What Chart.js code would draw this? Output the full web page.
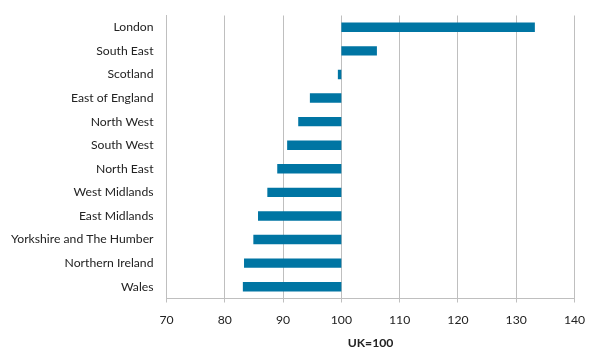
<!DOCTYPE html>
<html>
<head>
<meta charset="utf-8">
<script src="https://cdn.jsdelivr.net/npm/chart.js@4"></script>
<style>
  html, body { margin: 0; padding: 0; background: #fff; }
  #wrap { width: 600px; height: 361px; position: relative; }
</style>
</head>
<body>
<div id="wrap"><canvas id="c"></canvas></div>
<script>
const regions = ["London", "South East", "Scotland", "East of England", "North West", "South West", "North East", "West Midlands", "East Midlands", "Yorkshire and The Humber", "Northern Ireland", "Wales"];
const indexValues = [133.2, 106.1, 99.4, 94.6, 92.6, 90.7, 89.0, 87.3, 85.7, 84.9, 83.3, 83.1];
const baseline = 100;
const xTicks = [70, 80, 90, 100, 110, 120, 130, 140];
const axisTitle = "UK=100";

const FONT = "Lato, 'Open Sans', sans-serif";
const gridColor = "#bfbfbf";

new Chart(document.getElementById("c"), {
  type: "bar",
  data: {
    labels: regions,
    datasets: [{
      data: indexValues.map(v => [baseline, v]),
      backgroundColor: "#0075a3",
      borderWidth: 0,
      categoryPercentage: 1,
      barPercentage: 0.4
    }]
  },
  options: {
    indexAxis: "y",
    responsive: true,
    maintainAspectRatio: false,
    animation: false,
    layout: { padding: { top: 15.5, right: 25.5, left: 0, bottom: 0 } },
    plugins: { legend: { display: false }, tooltip: { enabled: false } },
    scales: {
      x: {
        min: xTicks[0],
        max: xTicks[xTicks.length - 1],
        afterBuildTicks: s => { s.ticks = xTicks.map(v => ({ value: v })); },
        grid: { color: gridColor, lineWidth: 1, tickLength: 4, drawTicks: true },
        border: { color: gridColor, width: 1 },
        ticks: { color: "#222", font: { family: FONT, size: 12.2 }, padding: 10, maxRotation: 0 },
        title: { display: true, text: axisTitle, color: "#222", font: { family: FONT, size: 12.2, weight: "bold" }, padding: { top: 7, bottom: 11 } },
        afterFit: s => { s.height = 62.5; }
      },
      y: {
        grid: { display: false, drawTicks: false },
        border: { display: true, color: gridColor, width: 1 },
        ticks: { color: "#222", font: { family: FONT, size: 12.2 }, padding: 13 },
        afterFit: s => { s.width = 166.5; s.paddingTop = 0; s.paddingBottom = 0; }
      }
    }
  }
});
</script>
</body>
</html>
